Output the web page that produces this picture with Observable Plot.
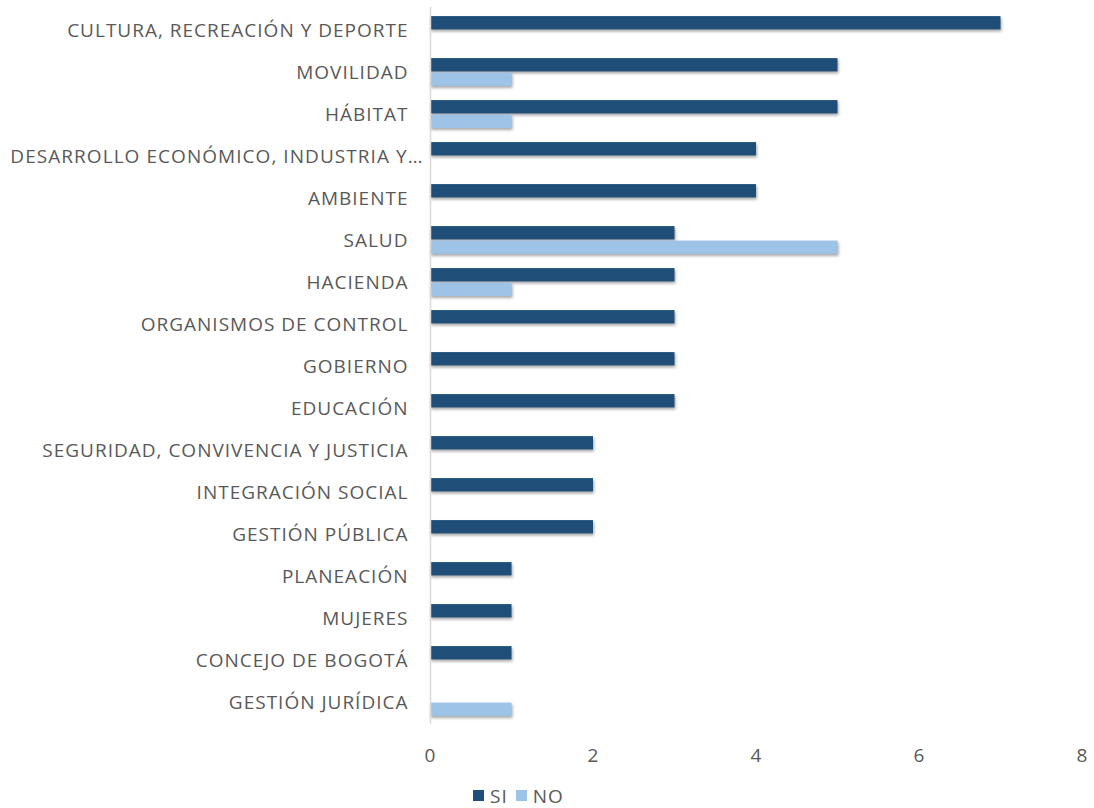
<!DOCTYPE html>
<html>
<head>
<meta charset="utf-8">
<script src="https://cdn.jsdelivr.net/npm/d3@7"></script>
<script src="https://cdn.jsdelivr.net/npm/@observablehq/plot@0.6"></script>
<style>
  body { margin: 0; background: #fff; font-family: "Open Sans", sans-serif; }
  #chart { width: 1094px; }
  #chart svg { display: block; }
  .legend { height: 25px; padding-top: 8px; padding-left: 473px; display: flex; align-items: center; font-size: 19px; letter-spacing: 1px; color: #595959; font-family: "Open Sans", sans-serif; }
  .legend .sw { display: inline-block; width: 11px; height: 11px; margin-right: 6px; }
  .legend .item { display: flex; align-items: center; margin-right: 8px; }
</style>
</head>
<body>
<div id="chart"></div>
<script>
const categories = [
  "CULTURA, RECREACIÓN Y DEPORTE",
  "MOVILIDAD",
  "HÁBITAT",
  "DESARROLLO ECONÓMICO, INDUSTRIA Y…",
  "AMBIENTE",
  "SALUD",
  "HACIENDA",
  "ORGANISMOS DE CONTROL",
  "GOBIERNO",
  "EDUCACIÓN",
  "SEGURIDAD, CONVIVENCIA Y JUSTICIA",
  "INTEGRACIÓN SOCIAL",
  "GESTIÓN PÚBLICA",
  "PLANEACIÓN",
  "MUJERES",
  "CONCEJO DE BOGOTÁ",
  "GESTIÓN JURÍDICA"
];
const siValues = [7, 5, 5, 4, 4, 3, 3, 3, 3, 3, 2, 2, 2, 1, 1, 1, 0];
const noValues = [0, 1, 1, 0, 0, 5, 1, 0, 0, 0, 0, 0, 0, 0, 0, 0, 1];
const seriesNames = ["SI", "NO"];
const seriesColors = ["#1f4e79", "#9dc3e6"];
const xTicks = [0, 2, 4, 6, 8];

const siData = categories.map((c, i) => ({category: c, value: siValues[i]})).filter(d => d.value > 0);
const noData = categories.map((c, i) => ({category: c, value: noValues[i]})).filter(d => d.value > 0);

const H = 775, mTop = 7, mBottom = 51;
const step = (H - mTop - mBottom) / categories.length;
const half = step / 2;

const plot = Plot.plot({
  width: 1094,
  height: H,
  marginLeft: 430,
  marginRight: 12,
  marginTop: mTop,
  marginBottom: mBottom,
  style: {fontFamily: "'Open Sans', sans-serif", fontSize: "19px", color: "#595959", background: "#fff", letterSpacing: "1px"},
  x: {domain: [0, 8], ticks: xTicks, label: null},
  y: {domain: categories, padding: 0, label: null},
  marks: [
    Plot.barX(siData, {x: "value", y: "category", fill: seriesColors[0], insetTop: half - 14, insetBottom: half + 0.5}),
    Plot.barX(noData, {x: "value", y: "category", fill: seriesColors[1], insetTop: half + 0.5, insetBottom: half - 14}),
    Plot.ruleX([0], {stroke: "#d9d9d9", strokeWidth: 1.5}),
    Plot.axisX({ticks: xTicks, tickSize: 0, tickPadding: 24, label: null, fill: "#595959", fontSize: 19}),
    Plot.axisY({tickSize: 0, tickPadding: 22, label: null, fill: "#595959", fontSize: 19})
  ]
});
d3.select(plot).selectAll("g[aria-label='bar'] rect").style("filter", "drop-shadow(1px 2px 1.5px rgba(0,0,0,0.35))");
d3.select(plot).selectAll("g[aria-label='y-axis tick label'] text")
  .filter(function() { return this.textContent === categories[3]; })
  .attr("dx", 15)
  .style("letter-spacing", "1.05px");
const chart = document.getElementById("chart");
chart.appendChild(plot);

const legend = document.createElement("div");
legend.className = "legend";
seriesNames.forEach((n, i) => {
  const it = document.createElement("span");
  it.className = "item";
  const sw = document.createElement("span");
  sw.className = "sw";
  sw.style.background = seriesColors[i];
  it.appendChild(sw);
  it.appendChild(document.createTextNode(n));
  legend.appendChild(it);
});
chart.appendChild(legend);
</script>
</body>
</html>
